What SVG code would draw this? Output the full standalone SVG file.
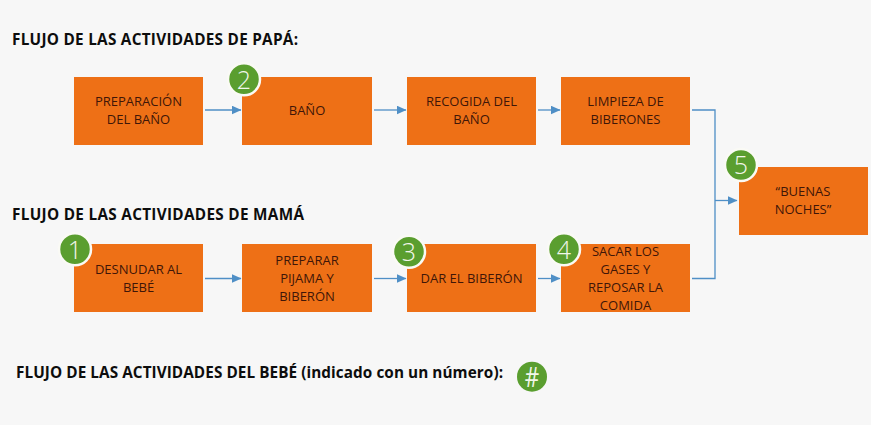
<svg xmlns="http://www.w3.org/2000/svg" width="871" height="425" viewBox="0 0 871 425">
<defs>
<marker id="a" markerUnits="userSpaceOnUse" markerWidth="10" markerHeight="9" refX="9.5" refY="4.5" orient="auto"><path d="M0 0L10 4.500L0 9Z" fill="#4f8fc6"/></marker>
</defs>
<style>
.b{fill:#ee7016}
.t{font-family:"Open Sans","Liberation Sans",sans-serif;font-size:13px;fill:#3f1608;text-anchor:middle}
.h{font-family:"Open Sans","Liberation Sans",sans-serif;font-size:15.300px;font-weight:700;fill:#0d0d0d}
.c{fill:#5a9e2f;stroke:#fafaf5;stroke-width:2.500}
.n{font-family:"Open Sans","Liberation Sans",sans-serif;font-size:25px;font-weight:300;fill:#f2f6ea;text-anchor:middle}
.l{fill:none;stroke:#4f8fc6;stroke-width:1.300}
</style>
<rect width="871" height="425" fill="#f7f7f7"/>
<text class="h" x="12" y="45" textLength="286" lengthAdjust="spacing">FLUJO DE LAS ACTIVIDADES DE PAPÁ:</text>
<text class="h" x="12" y="219.500" textLength="292" lengthAdjust="spacing">FLUJO DE LAS ACTIVIDADES DE MAMÁ</text>
<text class="h" x="16" y="378" textLength="487" lengthAdjust="spacing">FLUJO DE LAS ACTIVIDADES DEL BEBÉ (indicado con un número):</text>
<g id="connectors">
<path class="l" marker-end="url(#a)" d="M205 110H241"/>
<path class="l" marker-end="url(#a)" d="M374 110H406"/>
<path class="l" marker-end="url(#a)" d="M538 110H560"/>
<path class="l" marker-end="url(#a)" d="M205 278.500H241"/>
<path class="l" marker-end="url(#a)" d="M374 278.500H406"/>
<path class="l" marker-end="url(#a)" d="M538 278.500H560"/>
<path class="l" d="M692 110H715V278.500H692"/>
<path class="l" marker-end="url(#a)" d="M715 200.500H737"/>
</g>
<g id="n-preparacion"><rect class="b" x="74" y="77" width="129" height="68"/><text class="t" x="138.500" y="106">PREPARACIÓN</text><text class="t" x="138.500" y="124">DEL BAÑO</text></g>
<g id="n-bano"><rect class="b" x="242" y="77" width="130" height="68"/><text class="t" x="307" y="115">BAÑO</text>
<circle class="c" cx="244" cy="79.300" r="16"/><text class="n" x="244" y="88.500">2</text></g>
<g id="n-recogida"><rect class="b" x="407" y="77" width="129" height="68"/><text class="t" x="471.500" y="106">RECOGIDA DEL</text><text class="t" x="471.500" y="124">BAÑO</text></g>
<g id="n-limpieza"><rect class="b" x="561" y="77" width="129" height="68"/><text class="t" x="625.500" y="106">LIMPIEZA DE</text><text class="t" x="625.500" y="124">BIBERONES</text></g>
<g id="n-desnudar"><rect class="b" x="74" y="244" width="129" height="68"/><text class="t" x="138.500" y="274.300">DESNUDAR AL</text><text class="t" x="138.500" y="292.300">BEBÉ</text>
<circle class="c" cx="75" cy="249.300" r="16"/><text class="n" x="75" y="258.500">1</text></g>
<g id="n-pijama"><rect class="b" x="242" y="244" width="130" height="68"/><text class="t" x="307" y="265">PREPARAR</text><text class="t" x="307" y="283">PIJAMA Y</text><text class="t" x="307" y="301">BIBERÓN</text></g>
<g id="n-biberon"><rect class="b" x="407" y="244" width="129" height="68"/><text class="t" x="471.500" y="283">DAR EL BIBERÓN</text>
<circle class="c" cx="409" cy="251.700" r="16"/><text class="n" x="409" y="260.700">3</text></g>
<g id="n-gases"><rect class="b" x="561" y="244" width="129" height="68"/><text class="t" x="625.500" y="255.700">SACAR LOS</text><text class="t" x="625.500" y="273.700">GASES Y</text><text class="t" x="625.500" y="291.700">REPOSAR LA</text><text class="t" x="625.500" y="309.700">COMIDA</text>
<circle class="c" cx="564" cy="249.300" r="16"/><text class="n" x="564" y="258.500">4</text></g>
<g id="n-buenas"><rect class="b" x="739" y="167" width="129" height="68"/><text class="t" x="803" y="196">“BUENAS</text><text class="t" x="803" y="214">NOCHES”</text>
<circle class="c" cx="741" cy="165" r="16"/><text class="n" x="741" y="174">5</text></g>
<g id="n-legend"><circle cx="532" cy="376.700" r="15" fill="#5a9e2f"/><text class="n" transform="translate(532 386.500) scale(.8 1)" style="font-size:28px;font-weight:400">#</text></g>
</svg>
